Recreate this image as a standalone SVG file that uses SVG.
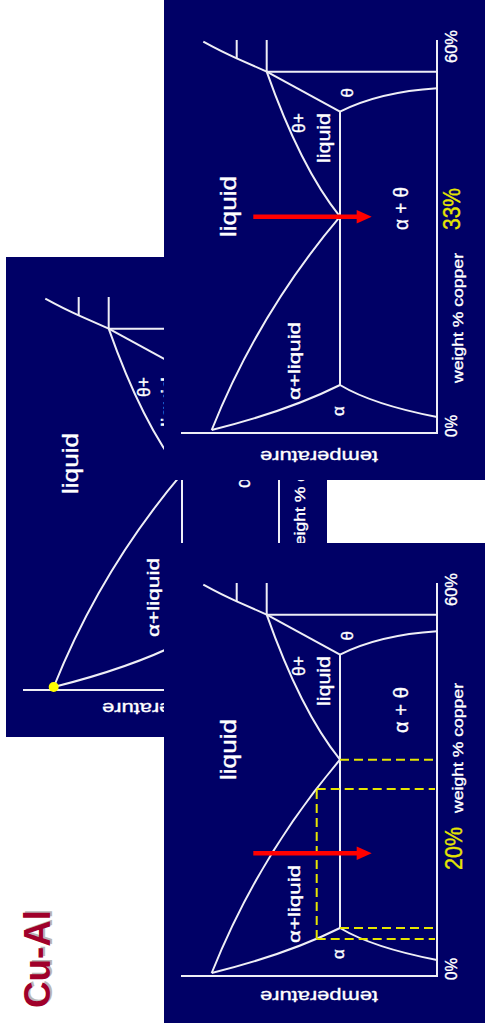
<svg xmlns="http://www.w3.org/2000/svg" xmlns:xlink="http://www.w3.org/1999/xlink" width="485" height="1023" viewBox="0 0 485 1023">
<style>
.bg{fill:#000066}
.ln{fill:none;stroke:#eeeef6;stroke-width:2}
.t{fill:#ffffff;stroke:#ffffff;stroke-width:0.35;font-family:"Liberation Sans",Arial,sans-serif}
.y{fill:#e6e600;stroke:#e6e600;stroke-width:0.35;font-family:"Liberation Sans",Arial,sans-serif}
.dash{fill:none;stroke:#e6e600;stroke-width:2;stroke-dasharray:9 5}
.arrow{stroke:#ff0000;stroke-width:4.6;fill:none}
.head{fill:#ff0000}
</style>
<defs>
<g id="phase-lines" class="ln">
<path d="M47,17 V273 H440"/>
<path d="M408.3,102.7 V273"/>
<path d="M408.3,102.7 H440"/>
<path d="M421.7,72.7 H440"/>
<path d="M408.3,102.7 L421.7,72.7 Q428,58 438.3,39.3"/>
<path d="M408.3,102.7 L368.3,176"/>
<path d="M368.3,176 Q388,215 391.7,273"/>
<path d="M95,176 H368.3"/>
<path d="M408.3,102.7 Q312.4,136.5 263.3,176"/>
<path d="M50,47.7 Q168,95 263.3,176"/>
<path d="M50,47.7 Q69,124 95,176"/>
<path d="M95,176 Q75.5,208.5 63,273"/>
</g>
</defs>

<g id="panel-middle" transform="translate(6,737) rotate(-90)">
<rect class="bg" x="0" y="0" width="480" height="321"/>
<use xlink:href="#phase-lines"/>
<circle cx="50" cy="47.7" r="5" fill="#ffff00"/>
<text class="t" x="243" y="71.5" font-size="22" textLength="61" lengthAdjust="spacingAndGlyphs">liquid</text>
<text class="t" x="100" y="153" font-size="16.5" textLength="79" lengthAdjust="spacingAndGlyphs">α+liquid</text>
<text class="t" x="360" y="144" font-size="17.5" text-anchor="end">θ+</text>
<text class="t" x="360" y="168" font-size="17.5" text-anchor="end" textLength="50" lengthAdjust="spacingAndGlyphs">liquid</text>
<text class="t" x="249" y="244" font-size="20" textLength="43" lengthAdjust="spacingAndGlyphs">α + θ</text>
<text class="t" x="179" y="299" font-size="14" textLength="130" lengthAdjust="spacingAndGlyphs">weight % copper</text>
<text class="t" transform="translate(34,155) rotate(-90)" font-size="17" text-anchor="middle" textLength="118" lengthAdjust="spacingAndGlyphs">temperature</text>
</g>

<g id="panel-top" transform="translate(164,480) rotate(-90)">
<rect class="bg" x="0" y="0" width="480" height="321"/>
<use xlink:href="#phase-lines"/>
<g id="arrow-33">
<path class="arrow" d="M263.3,89.3 V193"/>
<path class="head" d="M256.6,192.7 L270,192.7 L263.3,207.7 Z"/>
</g>
<text class="t" x="243" y="71.5" font-size="22" textLength="61" lengthAdjust="spacingAndGlyphs">liquid</text>
<text class="t" x="80" y="135.5" font-size="16.5" textLength="78" lengthAdjust="spacingAndGlyphs">α+liquid</text>
<text class="t" x="64" y="179.5" font-size="17">α</text>
<text class="t" x="367" y="141" font-size="17.5" text-anchor="end">θ+</text>
<text class="t" x="367" y="165.5" font-size="17.5" text-anchor="end" textLength="50" lengthAdjust="spacingAndGlyphs">liquid</text>
<text class="t" x="382.5" y="188.5" font-size="17">θ</text>
<text class="t" x="250" y="244" font-size="20" textLength="43" lengthAdjust="spacingAndGlyphs">α + θ</text>
<text class="y" x="250" y="296" font-size="23" textLength="42" lengthAdjust="spacingAndGlyphs">33%</text>
<text class="t" x="97" y="299" font-size="14" textLength="130" lengthAdjust="spacingAndGlyphs">weight % copper</text>
<text class="t" x="43" y="293" font-size="16" textLength="22" lengthAdjust="spacingAndGlyphs">0%</text>
<text class="t" x="417" y="293" font-size="16" textLength="33" lengthAdjust="spacingAndGlyphs">60%</text>
<text class="t" transform="translate(29.5,155) rotate(-90)" font-size="17" text-anchor="middle" textLength="118" lengthAdjust="spacingAndGlyphs">temperature</text>
</g>

<g id="panel-bottom" transform="translate(164,1023) rotate(-90)">
<rect class="bg" x="0" y="0" width="480" height="321"/>
<use xlink:href="#phase-lines"/>
<g id="tie-lines" class="dash">
<path d="M84,152.7 H234.1"/>
<path d="M234.1,152.7 V271"/>
<path d="M84,152.7 V271"/>
<path d="M263.3,176 V271"/>
<path d="M95,176 V271"/>
</g>
<g id="arrow-20">
<path class="arrow" d="M169.7,89.3 V193"/>
<path class="head" d="M163,192.7 L176.4,192.7 L169.7,207.7 Z"/>
</g>
<text class="t" x="243" y="71.5" font-size="22" textLength="61" lengthAdjust="spacingAndGlyphs">liquid</text>
<text class="t" x="80" y="135.5" font-size="16.5" textLength="78" lengthAdjust="spacingAndGlyphs">α+liquid</text>
<text class="t" x="64" y="179.5" font-size="17">α</text>
<text class="t" x="367" y="141" font-size="17.5" text-anchor="end">θ+</text>
<text class="t" x="367" y="165.5" font-size="17.5" text-anchor="end" textLength="50" lengthAdjust="spacingAndGlyphs">liquid</text>
<text class="t" x="382.5" y="188.5" font-size="17">θ</text>
<text class="t" x="290" y="244" font-size="20" textLength="46" lengthAdjust="spacingAndGlyphs">α + θ</text>
<text class="y" x="153" y="297.5" font-size="23" textLength="43" lengthAdjust="spacingAndGlyphs">20%</text>
<text class="t" x="210" y="299" font-size="14" textLength="130" lengthAdjust="spacingAndGlyphs">weight % copper</text>
<text class="t" x="43" y="293" font-size="16" textLength="22" lengthAdjust="spacingAndGlyphs">0%</text>
<text class="t" x="417" y="293" font-size="16" textLength="33" lengthAdjust="spacingAndGlyphs">60%</text>
<text class="t" transform="translate(32,155) rotate(-90)" font-size="17" text-anchor="middle" textLength="118" lengthAdjust="spacingAndGlyphs">temperature</text>
</g>

<g id="title" transform="translate(50,1008) rotate(-90)" font-family="'Liberation Sans',Arial,sans-serif" font-weight="bold" font-size="37">
<text x="1.5" y="1.5" fill="#b8b8b8" textLength="98" lengthAdjust="spacingAndGlyphs">Cu-Al</text>
<text x="0" y="0" fill="#a0002a" textLength="98" lengthAdjust="spacingAndGlyphs">Cu-Al</text>
</g>
</svg>
